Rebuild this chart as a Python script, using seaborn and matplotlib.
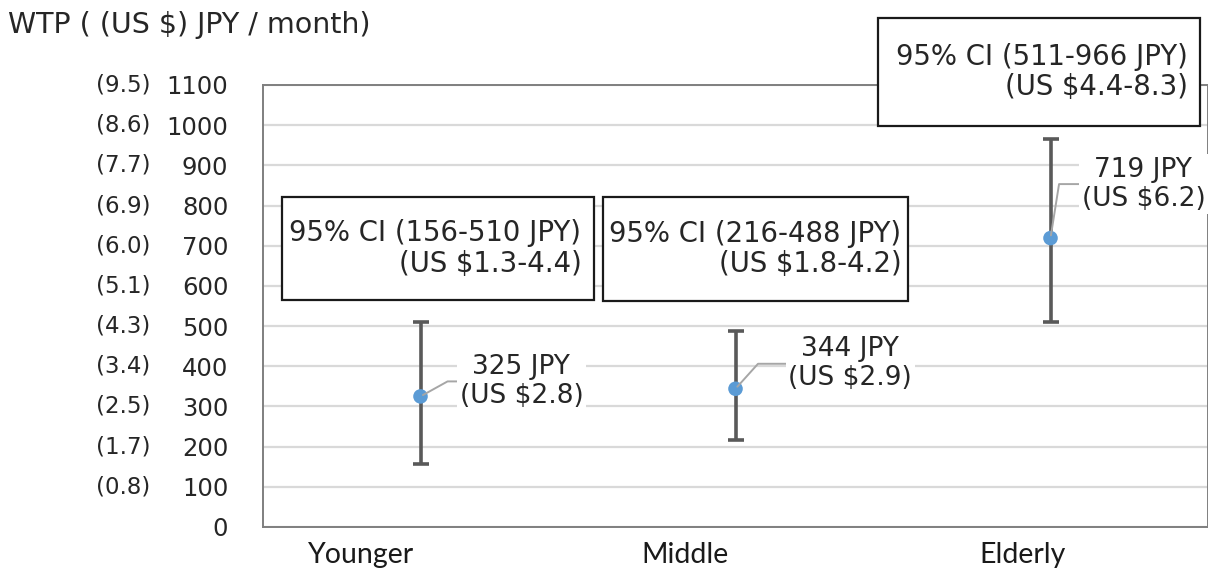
import matplotlib
matplotlib.use("Agg")
import matplotlib.pyplot as plt
from matplotlib.patches import Rectangle
import matplotlib.transforms as mtransforms
import seaborn as sns
import pandas as pd

# data
groups = ["Younger", "Middle", "Elderly"]
wtp_jpy = [325, 344, 719]
ci_low = [156, 216, 511]
ci_high = [510, 488, 966]
wtp_usd = ["2.8", "2.9", "6.2"]
ci_usd = ["1.3-4.4", "1.8-4.2", "4.4-8.3"]
y_ticks = [0, 100, 200, 300, 400, 500, 600, 700, 800, 900, 1000, 1100]
y_usd_labels = ["", "(0.8)", "(1.7)", "(2.5)", "(3.4)", "(4.3)", "(5.1)",
                "(6.0)", "(6.9)", "(7.7)", "(8.6)", "(9.5)"]

sns.set_style("white")
plt.rcParams["font.family"] = ["DejaVu Sans"]
TXT = "#262626"

df = pd.DataFrame({"group": groups, "wtp": wtp_jpy, "lo": ci_low, "hi": ci_high})
df["x"] = range(len(df))

fig = plt.figure(figsize=(12.08, 5.72), dpi=100)
ax = fig.add_axes([263 / 1208, 1 - 527 / 572, 945 / 1208, 442 / 572])

ax.errorbar(df["x"], df["wtp"], yerr=[df["wtp"] - df["lo"], df["hi"] - df["wtp"]],
            fmt="none", ecolor="#595959", elinewidth=2.6, capsize=6, capthick=2.6, zorder=3)
sns.scatterplot(data=df, x="x", y="wtp", color="#5B9BD5", s=110, edgecolor="none",
                zorder=4, ax=ax, legend=False)

ax.set_xlim(-0.5, 2.5)
ax.set_ylim(0, 1100)
ax.set_yticks(y_ticks)
ax.set_yticklabels([str(v) for v in y_ticks], fontsize=17.5, color=TXT)
ax.tick_params(axis="y", length=0, pad=25)
ax.grid(axis="y", color="#d9d9d9", linewidth=1.6)
ax.set_axisbelow(True)
for s in ax.spines.values():
    s.set_color("#7f7f7f")
    s.set_linewidth(1.4)

# x labels (slightly left of the points, as in the original)
ax.set_xticks([-0.19, 0.84, 1.91])
ax.set_xticklabels(groups, fontsize=20.5, family=["Lato", "DejaVu Sans"], color="#1a1a1a")
ax.tick_params(axis="x", length=0, pad=11)
ax.set_xlabel("")
ax.set_ylabel("")

# secondary USD tick labels
trans = mtransforms.blended_transform_factory(
    mtransforms.offset_copy(ax.transAxes, fig=fig, x=-113, units="dots"), ax.transData)
for v, lab in zip(y_ticks, y_usd_labels):
    ax.text(0, v, lab, transform=trans, fontsize=16.5, ha="right", va="center",
            color=TXT, clip_on=False)

fig.text(8 / 1208, 1 - 25 / 572, "WTP ( (US $) JPY / month)", fontsize=20.5,
         ha="left", va="center", color=TXT)

# value labels with leader lines
offsets = [(39, 15), (53, 25), (31, 54)]
angles = [29, 48, 81]
for i, row in df.iterrows():
    ax.annotate(f"{row['wtp']} JPY\n(US ${wtp_usd[i]})", xy=(row["x"], row["wtp"]),
                xytext=offsets[i], textcoords="offset pixels", ha="left", va="center",
                multialignment="center", fontsize=19, color=TXT, linespacing=1.15,
                bbox=dict(boxstyle="square,pad=0.1", fc="white", ec="none"),
                arrowprops=dict(arrowstyle="-", color="#a6a6a6", lw=1.4, shrinkA=0, shrinkB=2,
                                relpos=(0, 0.5),
                                connectionstyle=f"angle,angleA=0,angleB={angles[i]},rad=0"),
                zorder=5)

# CI boxes: (left, bottom, width, height) and right edge of the text
boxes = [(-0.441, 565, 0.993, 256), (0.578, 562, 0.971, 259), (1.451, 998, 1.025, 269)]
text_right = [0.511, 1.527, 2.435]
for i, (bx, by, bw, bh) in enumerate(boxes):
    ax.add_patch(Rectangle((bx, by), bw, bh, fc="white", ec="#1a1a1a", lw=1.6,
                           zorder=6, clip_on=False))
    ax.text(text_right[i], by + bh / 2,
            f"95% CI ({ci_low[i]}-{ci_high[i]} JPY)\n(US ${ci_usd[i]})",
            ha="right", va="center", multialignment="right", fontsize=19.8,
            color=TXT, linespacing=1.1, zorder=7, clip_on=False)

fig.savefig("out.png", dpi=100, facecolor="white")
